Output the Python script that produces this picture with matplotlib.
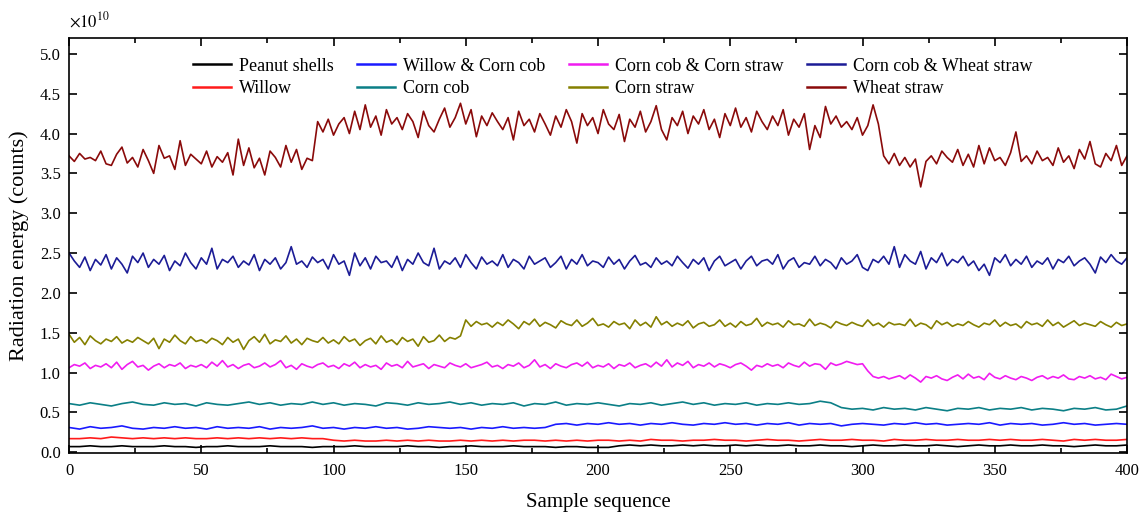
import numpy as np
import matplotlib
matplotlib.use("Agg")
import matplotlib.pyplot as plt
from matplotlib.ticker import MultipleLocator, FuncFormatter

plt.rcParams['font.family'] = ['Liberation Serif', 'DejaVu Serif']
plt.rcParams['mathtext.fontset'] = 'stix'

# values in units of 1e10 counts
wheat_straw = [
    # samples 0-92
    3.72, 3.65, 3.75, 3.68, 3.70, 3.66, 3.78, 3.62, 3.60, 3.74, 3.83, 3.63, 3.70, 3.58, 3.80, 3.66,
    3.50, 3.85, 3.69, 3.72, 3.55, 3.91, 3.60, 3.74, 3.68, 3.62, 3.78, 3.58, 3.71, 3.64, 3.76, 3.48,
    3.93, 3.60, 3.82, 3.57, 3.69, 3.48, 3.78, 3.70, 3.58, 3.85, 3.64, 3.80, 3.55, 3.69, 3.66,
    # samples 94-306
    4.15, 4.02, 4.18, 3.98, 4.12, 4.20, 4.00, 4.28, 4.05, 4.36, 4.08, 4.22, 3.98, 4.30, 4.12, 4.20,
    4.05, 4.25, 4.15, 3.95, 4.28, 4.10, 4.02, 4.18, 4.32, 4.08, 4.20, 4.38, 4.12, 4.30, 3.96, 4.22,
    4.10, 4.26, 4.15, 4.05, 4.20, 3.92, 4.28, 4.10, 4.18, 4.02, 4.25, 4.12, 3.98, 4.22, 4.08, 4.30,
    4.15, 3.88, 4.25, 4.10, 4.20, 4.00, 4.30, 4.12, 4.05, 4.24, 3.90, 4.18, 4.08, 4.28, 4.02, 4.15,
    4.35, 4.05, 3.92, 4.20, 4.10, 4.28, 4.00, 4.22, 4.12, 4.30, 4.05, 4.18, 3.95, 4.25, 4.10, 4.32,
    4.08, 4.20, 4.02, 4.28, 4.15, 4.05, 4.22, 4.10, 4.30, 3.98, 4.18, 4.08, 4.25, 3.80, 4.10, 3.95,
    4.34, 4.12, 4.22, 4.08, 4.15, 4.05, 4.20, 3.98, 4.10, 4.36, 4.12,
    # samples 308-400
    3.72, 3.62, 3.75, 3.60, 3.70, 3.58, 3.68, 3.33, 3.65, 3.72, 3.62, 3.78, 3.70, 3.64, 3.80, 3.60,
    3.74, 3.58, 3.85, 3.62, 3.82, 3.66, 3.70, 3.60, 3.76, 4.02, 3.65, 3.72, 3.62, 3.78, 3.66, 3.70,
    3.60, 3.82, 3.64, 3.72, 3.56, 3.80, 3.68, 3.90, 3.62, 3.58, 3.75, 3.66, 3.85, 3.60, 3.72,
]

cob_wheat = [
    2.50, 2.40, 2.32, 2.45, 2.28, 2.42, 2.35, 2.48, 2.30, 2.44, 2.36, 2.25, 2.46, 2.38, 2.50, 2.32,
    2.42, 2.36, 2.47, 2.28, 2.40, 2.34, 2.50, 2.38, 2.30, 2.44, 2.36, 2.56, 2.30, 2.42, 2.38, 2.46,
    2.32, 2.40, 2.35, 2.48, 2.28, 2.42, 2.36, 2.44, 2.30, 2.38, 2.58, 2.36, 2.40, 2.32, 2.45, 2.38,
    2.42, 2.30, 2.48, 2.36, 2.40, 2.22, 2.50, 2.34, 2.44, 2.30, 2.46, 2.38, 2.40, 2.32, 2.46, 2.28,
    2.42, 2.36, 2.50, 2.38, 2.34, 2.56, 2.30, 2.40, 2.36, 2.44, 2.32, 2.48, 2.38, 2.30, 2.45, 2.36,
    2.40, 2.34, 2.48, 2.32, 2.42, 2.38, 2.30, 2.46, 2.36, 2.40, 2.44, 2.32, 2.38, 2.46, 2.30, 2.42,
    2.36, 2.48, 2.34, 2.40, 2.38, 2.32, 2.45, 2.36, 2.42, 2.30, 2.40, 2.47, 2.35, 2.38, 2.32, 2.44,
    2.36, 2.40, 2.34, 2.46, 2.38, 2.31, 2.42, 2.36, 2.44, 2.28, 2.40, 2.46, 2.34, 2.38, 2.42, 2.30,
    2.40, 2.46, 2.34, 2.40, 2.42, 2.36, 2.48, 2.30, 2.40, 2.44, 2.32, 2.38, 2.36, 2.46, 2.34, 2.42,
    2.38, 2.30, 2.44, 2.36, 2.40, 2.48, 2.32, 2.28, 2.42, 2.38, 2.46, 2.36, 2.58, 2.32, 2.48, 2.40,
    2.36, 2.52, 2.30, 2.44, 2.38, 2.50, 2.34, 2.42, 2.38, 2.46, 2.34, 2.40, 2.28, 2.36, 2.22, 2.44,
    2.38, 2.48, 2.34, 2.42, 2.36, 2.46, 2.32, 2.40, 2.36, 2.44, 2.30, 2.42, 2.38, 2.46, 2.34, 2.40,
    2.44, 2.36, 2.25, 2.45, 2.38, 2.48, 2.40, 2.36, 2.44,
]

corn_straw = [
    # samples 0-148
    1.48, 1.38, 1.44, 1.35, 1.46, 1.40, 1.36, 1.42, 1.39, 1.45, 1.37, 1.41, 1.38, 1.44, 1.40, 1.36,
    1.43, 1.30, 1.42, 1.38, 1.47, 1.40, 1.36, 1.45, 1.39, 1.41, 1.37, 1.43, 1.40, 1.35, 1.44, 1.38,
    1.42, 1.29, 1.40, 1.45, 1.38, 1.48, 1.36, 1.41, 1.39, 1.46, 1.37, 1.42, 1.35, 1.43, 1.40, 1.38,
    1.44, 1.37, 1.41, 1.36, 1.45, 1.39, 1.42, 1.34, 1.40, 1.43, 1.36, 1.46, 1.38, 1.41, 1.35, 1.44,
    1.39, 1.42, 1.33, 1.45, 1.38, 1.40, 1.47, 1.39, 1.44, 1.42, 1.46,
    # samples 150-400
    1.66, 1.58, 1.64, 1.60, 1.62, 1.57, 1.63, 1.59, 1.66, 1.61, 1.55, 1.64, 1.60, 1.67, 1.58, 1.63,
    1.60, 1.56, 1.65, 1.61, 1.59, 1.66, 1.58, 1.62, 1.68, 1.59, 1.61, 1.57, 1.64, 1.60, 1.62, 1.55,
    1.66, 1.59, 1.63, 1.57, 1.70, 1.60, 1.64, 1.58, 1.62, 1.59, 1.65, 1.56, 1.61, 1.63, 1.58, 1.60,
    1.66, 1.58, 1.62, 1.57, 1.64, 1.59, 1.61, 1.68, 1.58, 1.63, 1.60, 1.62, 1.57, 1.65, 1.60, 1.61,
    1.58, 1.67, 1.59, 1.62, 1.60, 1.56, 1.64, 1.61, 1.59, 1.63, 1.60, 1.58, 1.66, 1.59, 1.62, 1.57,
    1.63, 1.60, 1.61, 1.59, 1.67, 1.58, 1.62, 1.60, 1.55, 1.65, 1.60, 1.63, 1.58, 1.61, 1.59, 1.64,
    1.60, 1.57, 1.62, 1.60, 1.66, 1.58, 1.63, 1.59, 1.61, 1.56, 1.64, 1.60, 1.62, 1.58, 1.66, 1.59,
    1.63, 1.57, 1.61, 1.65, 1.59, 1.62, 1.60, 1.58, 1.64, 1.60, 1.57, 1.63, 1.59, 1.61,
]

cob_corn_straw = [
    # samples 0-300
    1.06, 1.10, 1.08, 1.12, 1.05, 1.09, 1.07, 1.11, 1.06, 1.13, 1.04, 1.10, 1.14, 1.07, 1.09, 1.03,
    1.08, 1.11, 1.06, 1.10, 1.08, 1.12, 1.05, 1.09, 1.07, 1.10, 1.06, 1.13, 1.08, 1.15, 1.07, 1.10,
    1.05, 1.09, 1.11, 1.06, 1.08, 1.12, 1.07, 1.10, 1.15, 1.06, 1.09, 1.04, 1.11, 1.08, 1.06, 1.10,
    1.12, 1.07, 1.09, 1.05, 1.11, 1.08, 1.13, 1.06, 1.10, 1.07, 1.09, 1.04, 1.12, 1.08, 1.10, 1.06,
    1.14, 1.07, 1.09, 1.11, 1.05, 1.10, 1.08, 1.06, 1.12, 1.09, 1.07, 1.11, 1.06, 1.08, 1.10, 1.13,
    1.07, 1.09, 1.05, 1.10, 1.08, 1.12, 1.06, 1.09, 1.16, 1.07, 1.10, 1.05, 1.11, 1.08, 1.06, 1.10,
    1.12, 1.08, 1.13, 1.06, 1.09, 1.07, 1.11, 1.05, 1.10, 1.08, 1.12, 1.06, 1.09, 1.11, 1.07, 1.13,
    1.08, 1.16, 1.07, 1.12, 1.09, 1.14, 1.06, 1.10, 1.08, 1.12, 1.07, 1.11, 1.09, 1.06, 1.10, 1.12,
    1.08, 1.03, 1.09, 1.07, 1.11, 1.08, 1.10, 1.06, 1.12, 1.09, 1.07, 1.13, 1.08, 1.11, 1.10, 1.04,
    1.12, 1.09, 1.11, 1.14, 1.12, 1.10, 1.11,
    # samples 302-400
    1.02, 0.95, 0.93, 0.95, 0.92, 0.94, 0.96, 0.92, 0.97, 0.93, 0.88, 0.95, 0.93, 0.96, 0.92, 0.90,
    0.94, 0.97, 0.92, 0.98, 0.93, 0.95, 0.91, 0.99, 0.94, 0.92, 0.96, 0.93, 0.91, 0.95, 0.93, 0.90,
    0.94, 0.96, 0.92, 0.95, 0.93, 0.97, 0.92, 0.91, 0.95, 0.93, 0.96, 0.92, 0.94, 0.91, 0.98, 0.95,
    0.92, 0.94,
]

corn_cob = [
    # samples 0-288, every 4th
    0.61, 0.59, 0.62, 0.60, 0.58, 0.61, 0.63, 0.60, 0.59, 0.62, 0.60, 0.61, 0.58, 0.62, 0.60, 0.59,
    0.61, 0.63, 0.60, 0.62, 0.59, 0.61, 0.60, 0.63, 0.60, 0.62, 0.59, 0.61, 0.60, 0.58, 0.62, 0.61,
    0.59, 0.62, 0.60, 0.61, 0.63, 0.60, 0.62, 0.59, 0.61, 0.60, 0.62, 0.58, 0.61, 0.60, 0.63, 0.59,
    0.61, 0.60, 0.62, 0.60, 0.58, 0.61, 0.60, 0.62, 0.59, 0.61, 0.63, 0.60, 0.62, 0.59, 0.61, 0.60,
    0.62, 0.59, 0.61, 0.60, 0.62, 0.60, 0.61, 0.64, 0.62,
    # samples 292-400
    0.56, 0.54, 0.55, 0.53, 0.56, 0.54, 0.55, 0.53, 0.56, 0.54, 0.52, 0.55, 0.54, 0.56, 0.53, 0.55,
    0.54, 0.56, 0.53, 0.55, 0.54, 0.52, 0.55, 0.54, 0.56, 0.53, 0.54, 0.58,
]

willow_corn_cob = [
    # samples 0-180, every 4th
    0.31, 0.29, 0.32, 0.30, 0.31, 0.33, 0.30, 0.29, 0.31, 0.30, 0.32, 0.30, 0.31, 0.29, 0.32, 0.30,
    0.31, 0.30, 0.32, 0.29, 0.31, 0.30, 0.31, 0.33, 0.30, 0.31, 0.29, 0.31, 0.30, 0.32, 0.30, 0.31,
    0.29, 0.30, 0.32, 0.31, 0.30, 0.31, 0.29, 0.31, 0.30, 0.32, 0.30, 0.31, 0.30, 0.31,
    # samples 184-400
    0.35, 0.36, 0.34, 0.36, 0.35, 0.37, 0.35, 0.36, 0.34, 0.36, 0.35, 0.37, 0.35, 0.34, 0.36, 0.35,
    0.37, 0.35, 0.36, 0.34, 0.36, 0.35, 0.37, 0.34, 0.36, 0.35, 0.36, 0.33, 0.35, 0.36, 0.35, 0.34,
    0.36, 0.35, 0.37, 0.35, 0.36, 0.34, 0.35, 0.36, 0.35, 0.37, 0.34, 0.36, 0.35, 0.36, 0.34, 0.35,
    0.37, 0.35, 0.36, 0.34, 0.35, 0.36, 0.35,
]

willow = [
    # samples 0-96, every 4th
    0.17, 0.17, 0.18, 0.17, 0.19, 0.18, 0.17, 0.18, 0.17, 0.18, 0.17, 0.18, 0.17, 0.17, 0.18, 0.17,
    0.18, 0.17, 0.18, 0.17, 0.18, 0.17, 0.18, 0.17, 0.17,
    # samples 100-400
    0.15, 0.14, 0.15, 0.14, 0.14, 0.15, 0.14, 0.15, 0.14, 0.15, 0.14, 0.14, 0.15, 0.14, 0.15, 0.14,
    0.15, 0.14, 0.15, 0.15, 0.14, 0.15, 0.14, 0.15, 0.14, 0.15, 0.15, 0.14, 0.15, 0.14, 0.16, 0.15,
    0.15, 0.14, 0.15, 0.15, 0.16, 0.15, 0.15, 0.14, 0.15, 0.16, 0.15, 0.15, 0.14, 0.15, 0.16, 0.15,
    0.15, 0.16, 0.15, 0.15, 0.14, 0.16, 0.15, 0.15, 0.16, 0.15, 0.15, 0.16, 0.15, 0.15, 0.16, 0.15,
    0.16, 0.15, 0.15, 0.16, 0.15, 0.14, 0.16, 0.15, 0.16, 0.15, 0.15, 0.16,
]

peanut_shells = [
    # samples 0-204, every 4th
    0.07, 0.07, 0.08, 0.07, 0.07, 0.08, 0.07, 0.07, 0.07, 0.08, 0.07, 0.07, 0.06, 0.07, 0.07, 0.08,
    0.07, 0.07, 0.07, 0.08, 0.07, 0.07, 0.07, 0.06, 0.07, 0.07, 0.07, 0.08, 0.07, 0.07, 0.07, 0.07,
    0.08, 0.07, 0.07, 0.06, 0.07, 0.07, 0.08, 0.07, 0.07, 0.07, 0.08, 0.07, 0.07, 0.07, 0.06, 0.07,
    0.07, 0.06, 0.06, 0.06,
    # samples 208-400
    0.08, 0.09, 0.08, 0.09, 0.08, 0.08, 0.09, 0.08, 0.09, 0.08, 0.08, 0.09, 0.08, 0.09, 0.08, 0.08,
    0.09, 0.08, 0.08, 0.09, 0.08, 0.08, 0.07, 0.08, 0.09, 0.08, 0.08, 0.09, 0.08, 0.08, 0.09, 0.08,
    0.07, 0.08, 0.09, 0.08, 0.08, 0.09, 0.08, 0.08, 0.09, 0.08, 0.08, 0.07, 0.08, 0.09, 0.08, 0.08,
    0.09,
]

# legend order is column-major with 4 columns
series = [
    ("Peanut shells", peanut_shells, "#000000"),
    ("Willow", willow, "#ff1a1a"),
    ("Willow & Corn cob", willow_corn_cob, "#1a1aff"),
    ("Corn cob", corn_cob, "#0b7f86"),
    ("Corn cob & Corn straw", cob_corn_straw, "#f01cf0"),
    ("Corn straw", corn_straw, "#858000"),
    ("Corn cob & Wheat straw", cob_wheat, "#1c1c96"),
    ("Wheat straw", wheat_straw, "#8a0a0a"),
]

fig = plt.figure(figsize=(11.43, 5.13), dpi=100)
ax = fig.add_axes([0.0604, 0.117, 0.9256, 0.809])

for name, vals, col in series:
    y = np.array(vals) * 1e10
    x = np.linspace(0, 400, len(y))
    ax.plot(x, y, color=col, lw=1.2, label=name)

ax.set_xlim(0, 400)
ax.set_ylim(-0.01e10, 5.2e10)
ax.xaxis.set_major_locator(MultipleLocator(50))
ax.xaxis.set_minor_locator(MultipleLocator(25))
ax.yaxis.set_major_locator(MultipleLocator(0.5e10))
ax.yaxis.set_major_formatter(FuncFormatter(lambda v, p: f"{v / 1e10:.1f}"))
ax.text(0.0, 1.018, r"$\times10^{10}$", transform=ax.transAxes, fontsize=12,
        ha='left', va='bottom')

ax.tick_params(which='both', direction='in', top=True, right=True, labelsize=12, width=1.2)
ax.tick_params(which='major', length=6)
ax.tick_params(axis='x', pad=7)
ax.tick_params(axis='y', pad=6)
ax.tick_params(which='minor', length=3.5)
for s in ax.spines.values():
    s.set_linewidth(1.2)

ax.set_xlabel("Sample sequence", fontsize=15, labelpad=10)
ax.set_ylabel("Radiation energy (counts)", fontsize=16, labelpad=8)

leg = ax.legend(loc='center', bbox_to_anchor=(0.514, 0.905), ncol=4, frameon=False,
                fontsize=13, handlelength=2.1, handletextpad=0.45, columnspacing=1.3,
                labelspacing=0.3)
for h in leg.get_lines():
    h.set_linewidth(1.8)

fig.savefig("out.png", dpi=100, facecolor='white')
